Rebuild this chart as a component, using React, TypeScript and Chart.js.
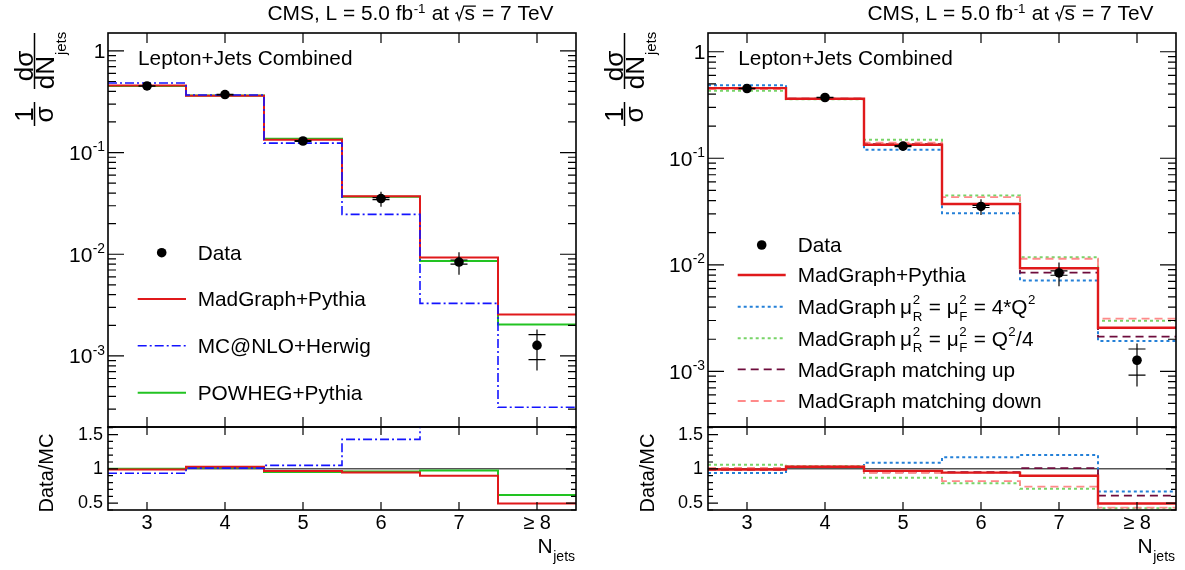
import React, { useEffect, useRef } from 'react';
import { Chart, registerables } from 'chart.js';

Chart.register(...registerables);

const W = 1185;
const H = 570;
const FONT = '"Liberation Sans", Arial, Helvetica, sans-serif';

// ---------------- data ----------------
const categories = ['3', '4', '5', '6', '7', '≥ 8'];
const binCenters = [3, 4, 5, 6, 7, 8];

const dataValues = [0.452, 0.372, 0.13, 0.0353, 0.00838, 0.00127];
const dataStatErr = [0.002, 0.002, 0.0012, 0.0008, 0.0004, 0.00035];
const dataTotErr = [0.008, 0.006, 0.004, 0.006, 0.0021, 0.00055];

const madgraphPythia = [0.456, 0.362, 0.134, 0.0372, 0.00928, 0.00256];
const mcatnloHerwig = [0.484, 0.369, 0.124, 0.0247, 0.00329, 0.000313];
const powhegPythia = [0.452, 0.364, 0.137, 0.0368, 0.00857, 0.00204];
const scaleUp4Q2 = [0.484, 0.36, 0.12, 0.0304, 0.00712, 0.00193];
const scaleDownQ2over4 = [0.43, 0.358, 0.149, 0.0447, 0.0118, 0.00298];
const matchingUp = [0.456, 0.363, 0.136, 0.0372, 0.00845, 0.00212];
const matchingDown = [0.445, 0.359, 0.14, 0.0432, 0.0114, 0.00312];

const ratioMadgraphPythia = [0.99, 1.03, 0.97, 0.945, 0.9, 0.495];
const ratioMcatnloHerwig = [0.935, 1.01, 1.05, 1.43, 2.55, 4.06];
const ratioPowhegPythia = [1.0, 1.02, 0.955, 0.96, 0.975, 0.62];
const ratioScaleUp4Q2 = [0.94, 1.03, 1.09, 1.17, 1.2, 0.67];
const ratioScaleDownQ2over4 = [1.06, 1.04, 0.87, 0.79, 0.71, 0.425];
const ratioMatchingUp = [0.99, 1.025, 0.95, 0.95, 1.01, 0.61];
const ratioMatchingDown = [1.015, 1.035, 0.94, 0.82, 0.74, 0.435];

const logTickValues = [1e-3, 1e-2, 1e-1, 1];
const logTickLabels = ['10^{-3}', '10^{-2}', '10^{-1}', '1'];
const ratioTickValues = [0.5, 1, 1.5];
const ratioTickLabels = ['0.5', '1', '1.5'];

const headerText = 'CMS, L = 5.0 fb^{-1} at #sqrt{s} = 7 TeV';
const channelText = 'Lepton+Jets Combined';
const ratioTitle = 'Data/MC';
const xTitle = 'N_{jets}';

const leftLegendNames = ['Data', 'MadGraph+Pythia', 'MC@NLO+Herwig', 'POWHEG+Pythia'];
const rightLegendNames = [
  'Data',
  'MadGraph+Pythia',
  'MadGraph\u2009#mu^{2}_{R} = #mu^{2}_{F} = 4*Q^{2}',
  'MadGraph\u2009#mu^{2}_{R} = #mu^{2}_{F} = Q^{2}/4',
  'MadGraph matching up',
  'MadGraph matching down',
];

// ---------------- types ----------------
interface SeriesDef {
  label: string;
  values: number[];
  ratio: number[];
  color: string;
  width: number;
  dash: number[];
}

interface PanelDef {
  id: string;
  frame: { left: number; right: number; top: number; split: number; bottom: number };
  logMin: number;
  logMax: number;
  series: SeriesDef[];
  legendOrder: string[];
  legendRows: number[];
  legendMarkerX: number;
  legendLine: [number, number];
  legendTextX: number;
  headerRight: number;
  channelX: number;
  yTitleBar: number;
  ratioTitleX: number;
}

const leftPanel: PanelDef = {
  id: 'L',
  frame: { left: 108, right: 576, top: 33, split: 427, bottom: 510 },
  logMin: 2e-4,
  logMax: 1.5,
  series: [
    { label: leftLegendNames[2], values: mcatnloHerwig, ratio: ratioMcatnloHerwig, color: '#1414ff', width: 1.6, dash: [9, 3, 2, 3] },
    { label: leftLegendNames[1], values: madgraphPythia, ratio: ratioMadgraphPythia, color: '#e0191b', width: 2, dash: [] },
    { label: leftLegendNames[3], values: powhegPythia, ratio: ratioPowhegPythia, color: '#22c322', width: 2, dash: [] },
  ],
  legendOrder: leftLegendNames,
  legendRows: [252.7, 299, 345.7, 392.7],
  legendMarkerX: 161.7,
  legendLine: [137.7, 186],
  legendTextX: 197.7,
  headerRight: 553.5,
  channelX: 138,
  yTitleBar: 34.5,
  ratioTitleX: 53,
};

const rightPanel: PanelDef = {
  id: 'R',
  frame: { left: 708, right: 1176, top: 33, split: 427, bottom: 510 },
  logMin: 3.05e-4,
  logMax: 1.5,
  series: [
    { label: rightLegendNames[1], values: madgraphPythia, ratio: ratioMadgraphPythia, color: '#e0191b', width: 2.4, dash: [] },
    { label: rightLegendNames[5], values: matchingDown, ratio: ratioMatchingDown, color: '#ff8a8a', width: 1.8, dash: [8, 5] },
    { label: rightLegendNames[4], values: matchingUp, ratio: ratioMatchingUp, color: '#6e0c3c', width: 1.8, dash: [8, 5] },
    { label: rightLegendNames[3], values: scaleDownQ2over4, ratio: ratioScaleDownQ2over4, color: '#78d468', width: 2, dash: [3, 3] },
    { label: rightLegendNames[2], values: scaleUp4Q2, ratio: ratioScaleUp4Q2, color: '#2480d8', width: 2, dash: [3, 3] },
  ],
  legendOrder: rightLegendNames,
  legendRows: [245, 275, 306.7, 338.3, 369.3, 401],
  legendMarkerX: 761.7,
  legendLine: [737.7, 785.7],
  legendTextX: 797.7,
  headerRight: 1153.5,
  channelX: 738.3,
  yTitleBar: 624.5,
  ratioTitleX: 654,
};

// ---------------- rich text (ROOT-like markup) ----------------
type Seg = { kind: 'n' | 'sup' | 'sub' | 'supsub' | 'sqrt'; t: string; t2?: string };

function parseRich(s: string): Seg[] {
  const segs: Seg[] = [];
  let i = 0;
  let buf = '';
  const flush = () => {
    if (buf) {
      segs.push({ kind: 'n', t: buf });
      buf = '';
    }
  };
  const readGroup = (): string => {
    const end = s.indexOf('}', i);
    const out = s.slice(i + 1, end);
    i = end + 1;
    return out;
  };
  while (i < s.length) {
    if (s.startsWith('#mu', i)) {
      buf += 'μ';
      i += 3;
      continue;
    }
    if (s.startsWith('#sqrt', i)) {
      flush();
      i += 5;
      segs.push({ kind: 'sqrt', t: readGroup() });
      continue;
    }
    if (s[i] === '^' && s[i + 1] === '{') {
      flush();
      i += 1;
      const g = readGroup();
      if (s[i] === '_' && s[i + 1] === '{') {
        i += 1;
        const g2 = readGroup();
        segs.push({ kind: 'supsub', t: g, t2: g2 });
      } else segs.push({ kind: 'sup', t: g });
      continue;
    }
    if (s[i] === '_' && s[i + 1] === '{') {
      flush();
      i += 1;
      segs.push({ kind: 'sub', t: readGroup() });
      continue;
    }
    buf += s[i];
    i++;
  }
  flush();
  return segs;
}

function setFont(ctx: CanvasRenderingContext2D, size: number) {
  ctx.font = `${size}px ${FONT}`;
}

interface RichOpts {
  align?: 'left' | 'right';
  raise?: number;
  drop?: number;
  small?: number;
}

function richWidth(ctx: CanvasRenderingContext2D, segs: Seg[], size: number, small: number) {
  let w = 0;
  for (const s of segs) {
    if (s.kind === 'n') {
      setFont(ctx, size);
      w += ctx.measureText(s.t).width;
    } else if (s.kind === 'sup' || s.kind === 'sub') {
      setFont(ctx, size * small);
      w += ctx.measureText(s.t).width + size * 0.04;
    } else if (s.kind === 'supsub') {
      setFont(ctx, size * small);
      w += Math.max(ctx.measureText(s.t).width, ctx.measureText(s.t2 || '').width) + size * 0.06;
    } else {
      setFont(ctx, size);
      w += size * 0.44 + ctx.measureText(s.t).width + size * 0.08;
    }
  }
  return w;
}

function drawRich(ctx: CanvasRenderingContext2D, text: string, x: number, y: number, size: number, o: RichOpts = {}) {
  const segs = parseRich(text);
  const small = o.small ?? 0.65;
  const raise = o.raise ?? 0.45;
  const drop = o.drop ?? 0.3;
  let cx = o.align === 'right' ? x - richWidth(ctx, segs, size, small) : x;
  ctx.save();
  ctx.fillStyle = '#000';
  ctx.strokeStyle = '#000';
  ctx.textAlign = 'left';
  ctx.textBaseline = 'alphabetic';
  for (const s of segs) {
    if (s.kind === 'n') {
      setFont(ctx, size);
      ctx.fillText(s.t, cx, y);
      cx += ctx.measureText(s.t).width;
    } else if (s.kind === 'sup') {
      setFont(ctx, size * small);
      ctx.fillText(s.t, cx + size * 0.02, y - size * raise);
      cx += ctx.measureText(s.t).width + size * 0.04;
    } else if (s.kind === 'sub') {
      setFont(ctx, size * small);
      ctx.fillText(s.t, cx + size * 0.02, y + size * drop);
      cx += ctx.measureText(s.t).width + size * 0.04;
    } else if (s.kind === 'supsub') {
      setFont(ctx, size * small);
      ctx.fillText(s.t, cx + size * 0.03, y - size * raise);
      ctx.fillText(s.t2 || '', cx + size * 0.03, y + size * drop);
      cx += Math.max(ctx.measureText(s.t).width, ctx.measureText(s.t2 || '').width) + size * 0.06;
    } else {
      setFont(ctx, size);
      const iw = ctx.measureText(s.t).width;
      const rw = size * 0.44;
      ctx.lineWidth = 1.2;
      ctx.beginPath();
      ctx.moveTo(cx + size * 0.02, y - size * 0.3);
      ctx.lineTo(cx + size * 0.1, y - size * 0.36);
      ctx.lineTo(cx + size * 0.2, y);
      ctx.lineTo(cx + rw - size * 0.02, y - size * 0.66);
      ctx.lineTo(cx + rw + iw + size * 0.06, y - size * 0.66);
      ctx.stroke();
      ctx.fillText(s.t, cx + rw + size * 0.02, y);
      cx += rw + iw + size * 0.08;
    }
  }
  ctx.restore();
}

function rotText(ctx: CanvasRenderingContext2D, t: string, X: number, Y: number, size: number) {
  ctx.save();
  ctx.translate(X, Y);
  ctx.rotate(-Math.PI / 2);
  setFont(ctx, size);
  ctx.fillStyle = '#000';
  ctx.textAlign = 'center';
  ctx.textBaseline = 'alphabetic';
  ctx.fillText(t, 0, 0);
  ctx.restore();
}

function drawYTitle(ctx: CanvasRenderingContext2D, bx: number) {
  const big = 26;
  ctx.save();
  ctx.strokeStyle = '#000';
  ctx.lineWidth = 1.5;
  ctx.beginPath();
  ctx.moveTo(bx, 102);
  ctx.lineTo(bx, 126);
  ctx.moveTo(bx, 33);
  ctx.lineTo(bx, 89);
  ctx.stroke();
  rotText(ctx, '1', bx - 2, 114.5, big);
  rotText(ctx, 'σ', bx + 18.5, 114.5, big);
  rotText(ctx, 'dσ', bx - 2, 66, big);
  setFont(ctx, big);
  const w1 = ctx.measureText('dN').width;
  setFont(ctx, 15);
  const w2 = ctx.measureText('jets').width;
  const start = 61 + (w1 + w2) / 2;
  rotText(ctx, 'dN', bx + 19.5, start - w1 / 2, big);
  rotText(ctx, 'jets', bx + 31, start - w1 - w2 / 2 - 1, 15);
  ctx.restore();
}

// ---------------- drawing helpers ----------------
function drawFrameAndTicks(chart: any, kind: 'top' | 'ratio', p: PanelDef) {
  const ctx: CanvasRenderingContext2D = chart.ctx;
  const ca = chart.chartArea;
  const xs = chart.scales.x;
  const ys = chart.scales.y;
  ctx.save();
  ctx.strokeStyle = '#000';
  ctx.lineWidth = 1.2;
  ctx.setLineDash([]);
  ctx.beginPath();
  const xl = kind === 'top' ? 10 : 8;
  for (const c of binCenters) {
    const px = xs.getPixelForValue(c);
    ctx.moveTo(px, ca.top);
    ctx.lineTo(px, ca.top + xl);
    ctx.moveTo(px, ca.bottom);
    ctx.lineTo(px, ca.bottom - xl);
  }
  if (kind === 'top') {
    for (let d = -5; d <= 1; d++) {
      for (let k = 1; k <= 9; k++) {
        const v = k * Math.pow(10, d);
        if (v < p.logMin * 0.9999 || v > p.logMax * 1.0001) continue;
        const py = ys.getPixelForValue(v);
        const L = k === 1 ? 16 : 8;
        ctx.moveTo(ca.left, py);
        ctx.lineTo(ca.left + L, py);
        ctx.moveTo(ca.right, py);
        ctx.lineTo(ca.right - L, py);
      }
    }
  } else {
    for (let k = 4; k <= 16; k++) {
      const v = k / 10;
      if (v < ys.min - 1e-9 || v > ys.max + 1e-9) continue;
      const major = k === 5 || k === 10 || k === 15;
      const L = major ? 10 : 5;
      const py = ys.getPixelForValue(v);
      ctx.moveTo(ca.left, py);
      ctx.lineTo(ca.left + L, py);
      ctx.moveTo(ca.right, py);
      ctx.lineTo(ca.right - L, py);
    }
  }
  ctx.stroke();
  ctx.lineWidth = 1.6;
  ctx.strokeRect(ca.left, ca.top, ca.right - ca.left, ca.bottom - ca.top);
  ctx.restore();
}

function drawDataErrors(chart: any) {
  const ctx: CanvasRenderingContext2D = chart.ctx;
  const xs = chart.scales.x;
  const ys = chart.scales.y;
  ctx.save();
  ctx.strokeStyle = '#000';
  ctx.lineWidth = 1.2;
  ctx.beginPath();
  dataValues.forEach((v, i) => {
    const px = xs.getPixelForValue(binCenters[i]);
    ctx.moveTo(px, ys.getPixelForValue(v + dataTotErr[i]));
    ctx.lineTo(px, ys.getPixelForValue(v - dataTotErr[i]));
    for (const s of [v + dataStatErr[i], v - dataStatErr[i]]) {
      const py = ys.getPixelForValue(s);
      ctx.moveTo(px - 8.5, py);
      ctx.lineTo(px + 8.5, py);
    }
  });
  ctx.stroke();
  ctx.restore();
}

function drawLegend(ctx: CanvasRenderingContext2D, p: PanelDef) {
  p.legendOrder.forEach((name, r) => {
    const y = p.legendRows[r];
    ctx.save();
    if (name === 'Data') {
      ctx.fillStyle = '#000';
      ctx.beginPath();
      ctx.arc(p.legendMarkerX, y, 4.8, 0, Math.PI * 2);
      ctx.fill();
    } else {
      const s = p.series.find((q) => q.label === name);
      if (s) {
        ctx.strokeStyle = s.color;
        ctx.lineWidth = s.width;
        ctx.setLineDash(s.dash);
        ctx.beginPath();
        ctx.moveTo(p.legendLine[0], y);
        ctx.lineTo(p.legendLine[1], y);
        ctx.stroke();
      }
    }
    ctx.restore();
    drawRich(ctx, name, p.legendTextX, y + 7.3, 20.8, { raise: 0.47, drop: 0.32, small: 0.64 });
  });
}

function makePlugin(p: PanelDef, kind: 'top' | 'ratio') {
  return {
    id: 'rootstyle' + p.id + kind,
    beforeDatasetsDraw(chart: any) {
      if (kind !== 'ratio') return;
      const ctx: CanvasRenderingContext2D = chart.ctx;
      const ca = chart.chartArea;
      const y1 = chart.scales.y.getPixelForValue(1);
      ctx.save();
      ctx.strokeStyle = '#000';
      ctx.lineWidth = 1;
      ctx.beginPath();
      ctx.moveTo(ca.left, y1);
      ctx.lineTo(ca.right, y1);
      ctx.stroke();
      ctx.restore();
    },
    afterDatasetsDraw(chart: any) {
      if (kind === 'top') drawDataErrors(chart);
    },
    afterDraw(chart: any) {
      const ctx: CanvasRenderingContext2D = chart.ctx;
      const ca = chart.chartArea;
      drawFrameAndTicks(chart, kind, p);
      if (kind === 'top') {
        drawRich(ctx, headerText, p.headerRight, 20, 20.9, { align: 'right', raise: 0.33, small: 0.64 });
        drawRich(ctx, channelText, p.channelX, 65, 20.8);
        drawYTitle(ctx, p.yTitleBar);
        const ys = chart.scales.y;
        logTickValues.forEach((v, i) => {
          const py = ys.getPixelForValue(v);
          drawRich(ctx, logTickLabels[i], ca.left - 2.5, py + 7.5, 21, { align: 'right', raise: 0.42, small: 0.66 });
        });
        drawLegend(ctx, p);
      } else {
        rotText(ctx, ratioTitle, p.ratioTitleX, 473, 20);
        drawRich(ctx, xTitle, ca.right - 0.5, 553, 21, { align: 'right', drop: 0.37, small: 0.67 });
      }
    },
  };
}

function histDataset(s: SeriesDef, useRatio: boolean) {
  const vals = useRatio ? s.ratio : s.values;
  const pts = vals.map((v, i) => ({ x: binCenters[i] - 0.5, y: v }));
  pts.push({ x: binCenters[binCenters.length - 1] + 0.5, y: vals[vals.length - 1] });
  return {
    type: 'line' as const,
    label: s.label,
    data: pts,
    borderColor: s.color,
    borderWidth: s.width,
    borderDash: s.dash,
    borderCapStyle: 'butt' as const,
    borderJoinStyle: 'miter' as const,
    stepped: 'before' as const,
    pointRadius: 0,
    fill: false,
    tension: 0,
  };
}

function topConfig(p: PanelDef): any {
  const datasets: any[] = [
    {
      type: 'line',
      label: 'Data',
      data: dataValues.map((v, i) => ({ x: binCenters[i], y: v })),
      showLine: false,
      pointRadius: 4.8,
      pointBackgroundColor: '#000',
      pointBorderColor: '#000',
      pointBorderWidth: 0,
    },
    ...p.series.map((s) => histDataset(s, false)),
  ];
  return {
    type: 'line',
    data: { datasets },
    options: {
      responsive: false,
      animation: false,
      events: [],
      layout: { padding: { left: p.frame.left, top: p.frame.top, right: W - p.frame.right, bottom: H - p.frame.split } },
      scales: {
        x: { type: 'linear', min: 2.5, max: 8.5, display: false },
        y: { type: 'logarithmic', min: p.logMin, max: p.logMax, display: false },
      },
      plugins: { legend: { display: false }, tooltip: { enabled: false } },
    },
    plugins: [makePlugin(p, 'top')],
  };
}

function ratioConfig(p: PanelDef): any {
  const yAxisWidth = 100;
  return {
    type: 'line',
    data: { datasets: p.series.map((s) => histDataset(s, true)) },
    options: {
      responsive: false,
      animation: false,
      events: [],
      layout: { padding: { left: p.frame.left - yAxisWidth, top: p.frame.split, right: W - p.frame.right, bottom: 0 } },
      scales: {
        x: {
          type: 'linear',
          min: 2.5,
          max: 8.5,
          position: 'bottom',
          grid: { display: false, drawTicks: false },
          border: { display: false },
          afterBuildTicks: (s: any) => {
            s.ticks = binCenters.map((v) => ({ value: v }));
          },
          afterFit: (s: any) => {
            s.height = H - p.frame.bottom;
          },
          ticks: {
            callback: (_v: any, i: number) => categories[i],
            font: { size: 20, family: FONT },
            color: '#000',
            padding: 1,
            maxRotation: 0,
            autoSkip: false,
          },
        },
        y: {
          type: 'linear',
          min: 0.4,
          max: 1.61,
          position: 'left',
          grid: { display: false, drawTicks: false },
          border: { display: false },
          afterBuildTicks: (s: any) => {
            s.ticks = ratioTickValues.map((v) => ({ value: v }));
          },
          afterFit: (s: any) => {
            s.width = yAxisWidth;
          },
          ticks: {
            callback: (_v: any, i: number) => ratioTickLabels[i],
            font: { size: 18, family: FONT },
            color: '#000',
            padding: 5,
          },
        },
      },
      plugins: { legend: { display: false }, tooltip: { enabled: false } },
    },
    plugins: [makePlugin(p, 'ratio')],
  };
}

export default function App() {
  const r0 = useRef<HTMLCanvasElement>(null);
  const r1 = useRef<HTMLCanvasElement>(null);
  const r2 = useRef<HTMLCanvasElement>(null);
  const r3 = useRef<HTMLCanvasElement>(null);

  useEffect(() => {
    Chart.defaults.font.family = FONT;
    Chart.defaults.color = '#000';
    const charts = [
      new Chart(r0.current as HTMLCanvasElement, topConfig(leftPanel)),
      new Chart(r1.current as HTMLCanvasElement, ratioConfig(leftPanel)),
      new Chart(r2.current as HTMLCanvasElement, topConfig(rightPanel)),
      new Chart(r3.current as HTMLCanvasElement, ratioConfig(rightPanel)),
    ];
    return () => charts.forEach((c) => c.destroy());
  }, []);

  const cs: React.CSSProperties = { position: 'absolute', left: 0, top: 0, width: W, height: H };
  return (
    <div style={{ position: 'absolute', left: 0, top: 0, width: W, height: H, background: '#fff', overflow: 'hidden' }}>
      <canvas ref={r0} width={W} height={H} style={cs} />
      <canvas ref={r1} width={W} height={H} style={cs} />
      <canvas ref={r2} width={W} height={H} style={cs} />
      <canvas ref={r3} width={W} height={H} style={cs} />
    </div>
  );
}
